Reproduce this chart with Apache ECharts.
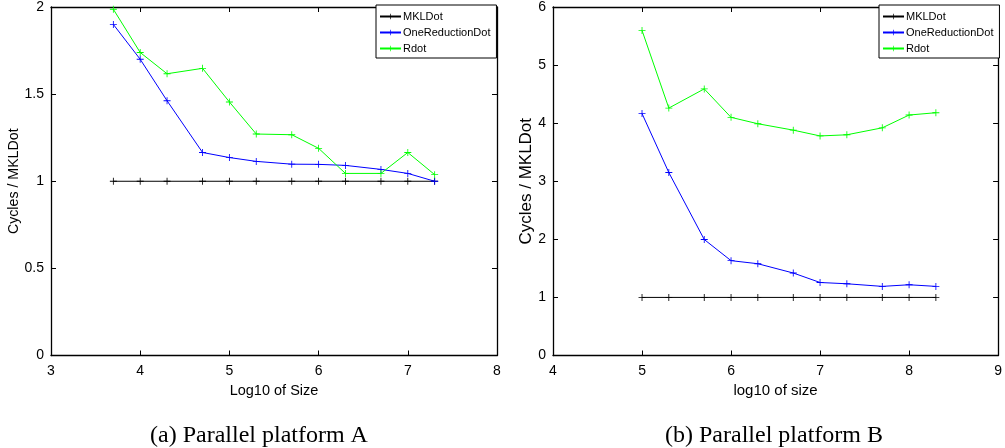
<!DOCTYPE html>
<html>
<head>
<meta charset="utf-8">
<script src="https://cdn.jsdelivr.net/npm/echarts@6/dist/echarts.min.js"></script>
<style>html,body{margin:0;padding:0;background:#fff}#c{width:1005px;height:448px}</style>
</head>
<body>
<div id="c"></div>
<script>
// Panel A
const xA = [3.699, 4.0, 4.301, 4.699, 5.0, 5.301, 5.699, 6.0, 6.301, 6.699, 7.0, 7.301];
const mklA = [1, 1, 1, 1, 1, 1, 1, 1, 1, 1, 1, 1];
const oneRedA = [1.90, 1.70, 1.462, 1.165, 1.136, 1.114, 1.098, 1.097, 1.091, 1.068, 1.045, 1.0];
const rdotA = [1.987, 1.739, 1.617, 1.648, 1.455, 1.271, 1.267, 1.189, 1.045, 1.045, 1.165, 1.038];
// Panel B
const xB = [5.0, 5.301, 5.699, 6.0, 6.301, 6.699, 7.0, 7.301, 7.699, 8.0, 8.301];
const mklB = [1, 1, 1, 1, 1, 1, 1, 1, 1, 1, 1];
const oneRedB = [4.165, 3.15, 1.997, 1.633, 1.58, 1.42, 1.257, 1.235, 1.19, 1.218, 1.19];
const rdotB = [5.597, 4.26, 4.59, 4.10, 3.99, 3.88, 3.78, 3.80, 3.92, 4.14, 4.18];

const seriesNames = ['MKLDot', 'OneReductionDot', 'Rdot'];
const colors = ['#000000', '#0000ff', '#00ff00'];
const captions = ['(a) Parallel platform A', '(b) Parallel platform B'];
const xNames = ['Log10 of Size', 'log10 of size'];
const yName = 'Cycles / MKLDot';

const plus = 'path://M0,4.4H10V5.6H0Z M4.4,0H5.6V10H4.4Z';
const sans = 'Liberation Sans';

function zip(xs, ys) { return xs.map((x, i) => [x, ys[i]]); }

function mkSeries(name, color, data, gi) {
  return {
    name: name, type: 'line', xAxisIndex: gi * 2, yAxisIndex: gi * 2,
    data: data, symbol: plus, symbolSize: 7, showSymbol: true,
    lineStyle: { color: color, width: 1 },
    itemStyle: { color: color },
    animation: false, z: 3
  };
}

function xAx(gi, pos, min, max, name, nameSize) {
  const main = pos === 'bottom';
  return {
    type: 'value', gridIndex: gi, position: pos, min: min, max: max, interval: 1,
    name: main ? name : '', nameLocation: 'middle', nameGap: 26,
    nameTextStyle: { fontFamily: sans, fontSize: nameSize || 14, color: '#000' },
    axisLine: { show: true, onZero: false, lineStyle: { color: '#000', width: 1.3 } },
    axisTick: { show: true, inside: true, length: 5, lineStyle: { color: '#000' } },
    axisLabel: { show: main, fontFamily: sans, fontSize: 14, color: '#000', margin: 9 },
    splitLine: { show: false }
  };
}
function yAx(gi, pos, min, max, interval, nameGap, nameSize) {
  const main = pos === 'left';
  return {
    type: 'value', gridIndex: gi, position: pos, min: min, max: max, interval: interval,
    name: main ? yName : '', nameLocation: 'middle', nameGap: nameGap,
    nameTextStyle: { fontFamily: sans, fontSize: nameSize, color: '#000' },
    axisLine: { show: true, onZero: false, lineStyle: { color: '#000', width: 1.3 } },
    axisTick: { show: true, inside: true, length: 5, lineStyle: { color: '#000' } },
    axisLabel: { show: main, fontFamily: sans, fontSize: 14, color: '#000', margin: 7 },
    splitLine: { show: false }
  };
}

function legendAt(left) {
  return {
    left: left, top: 5, orient: 'vertical', data: seriesNames,
    itemWidth: 21, itemHeight: 7, itemGap: 5,
    padding: [6, 6, 4, 3],
    backgroundColor: '#fff', borderColor: '#000', borderWidth: 1,
    textStyle: { fontFamily: sans, fontSize: 11, color: '#000', padding: [0, 0, 0, -3] },
    selectedMode: false
  };
}

const chart = echarts.init(document.getElementById('c'), null, { renderer: 'canvas' });
chart.setOption({
  backgroundColor: '#fff',
  animation: false,
  grid: [
    { left: 51, right: 508, top: 4, bottom: 92.5 },
    { left: 553, right: 6, top: 4, bottom: 92.5 }
  ],
  title: [
    { text: captions[0], left: 254, top: 419, textAlign: 'center',
      textStyle: { fontFamily: 'Liberation Serif', fontWeight: 'normal', fontSize: 24, color: '#000' } },
    { text: captions[1], left: 769, top: 419, textAlign: 'center',
      textStyle: { fontFamily: 'Liberation Serif', fontWeight: 'normal', fontSize: 24, color: '#000' } }
  ],
  legend: [legendAt(376), legendAt(879)],
  xAxis: [
    xAx(0, 'bottom', 3, 8, xNames[0], 14.5), xAx(0, 'top', 3, 8, ''),
    xAx(1, 'bottom', 4, 9, xNames[1], 15), xAx(1, 'top', 4, 9, '')
  ],
  yAxis: [
    yAx(0, 'left', 0, 2, 0.5, 30, 14.2), yAx(0, 'right', 0, 2, 0.5, 0, 12),
    yAx(1, 'left', 0, 6, 1, 13, 17), yAx(1, 'right', 0, 6, 1, 0, 12)
  ],
  series: [
    mkSeries(seriesNames[0], colors[0], zip(xA, mklA), 0),
    mkSeries(seriesNames[1], colors[1], zip(xA, oneRedA), 0),
    mkSeries(seriesNames[2], colors[2], zip(xA, rdotA), 0),
    mkSeries(seriesNames[0], colors[0], zip(xB, mklB), 1),
    mkSeries(seriesNames[1], colors[1], zip(xB, oneRedB), 1),
    mkSeries(seriesNames[2], colors[2], zip(xB, rdotB), 1)
  ]
});
</script>
</body>
</html>
